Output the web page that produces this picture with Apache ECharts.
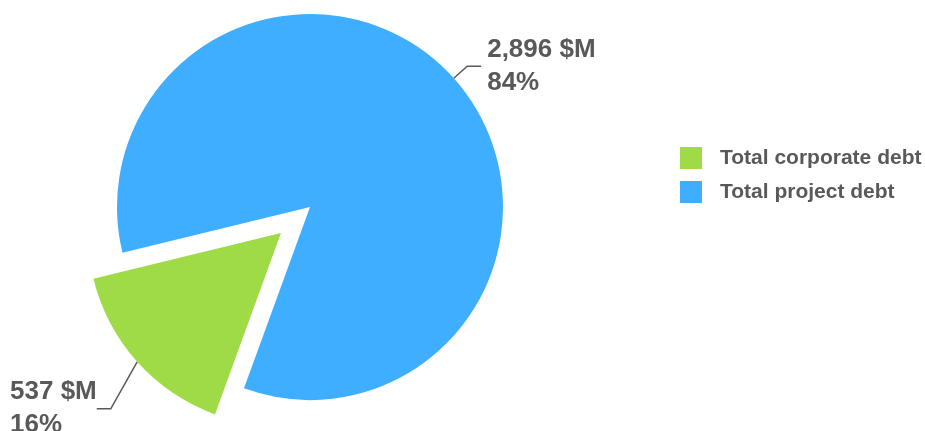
<!DOCTYPE html>
<html>
<head>
<meta charset="utf-8">
<style>
  html, body { margin: 0; padding: 0; background: #ffffff; }
  #chart { width: 925px; height: 431px; }
</style>
<script src="https://cdn.jsdelivr.net/npm/echarts@6/dist/echarts.min.js"></script>
</head>
<body>
<div id="chart"></div>
<script>
// Debt breakdown ($M)
const categories = ['Total corporate debt', 'Total project debt'];
const debtValues = [537, 2896];
const sliceColors = ['#9fdb47', '#40aeff'];

const textColor = '#595959';
const labelFont = 'Liberation Sans, Arial, sans-serif';

const chart = echarts.init(document.getElementById('chart'), null, { renderer: 'canvas' });

const pieData = categories.map((name, i) => ({
  name: name,
  value: debtValues[i],
  selected: i === 0,
  itemStyle: { color: sliceColors[i] }
}));

chart.setOption({
  animation: false,
  legend: {
    orient: 'vertical',
    left: 675,
    top: 142,
    icon: 'rect',
    itemWidth: 22,
    itemHeight: 22,
    itemGap: 12,
    selectedMode: false,
    data: categories,
    textStyle: {
      color: textColor,
      fontFamily: labelFont,
      fontWeight: 'bold',
      fontSize: 21,
      padding: [0, 0, 0, 13]
    }
  },
  series: [{
    type: 'pie',
    center: [310, 207],
    radius: 193,
    startAngle: 250,
    clockwise: true,
    selectedMode: 'single',
    selectedOffset: 39,
    avoidLabelOverlap: false,
    data: pieData,
    label: {
      show: true,
      position: 'outside',
      distanceToLabelLine: 6,
      padding: [0, 7, 0, 0],
      formatter: p => '{t|' + p.value.toLocaleString('en-US') + ' $M}\n{t|' + Math.round(p.percent) + '%}',
      rich: {
        t: {
          align: 'left',
          color: textColor,
          fontFamily: labelFont,
          fontWeight: 'bold',
          fontSize: 26,
          lineHeight: 33
        }
      }
    },
    labelLine: {
      show: true,
      length: 18,
      length2: 14,
      lineStyle: { color: textColor, width: 1.5 }
    },
    // the small slice's label sits lower, below the slice; setting y re-routes its guide line
    labelLayout: p => (p.dataIndex === 0
      ? { y: p.labelRect.y + p.labelRect.height / 2, dy: 35 }
      : {}),
    emphasis: { disabled: true }
  }]
});
</script>
</body>
</html>
